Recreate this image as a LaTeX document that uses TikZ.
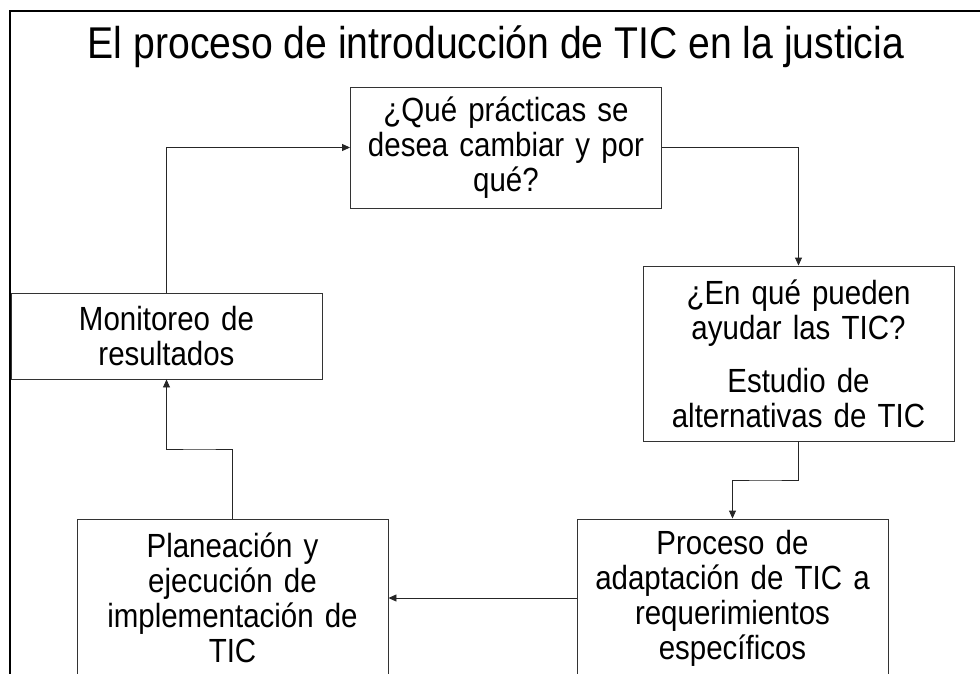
\documentclass[tikz,border=0pt]{standalone}
\usepackage{fontspec}
\setmainfont{Liberation Sans}[FakeStretch=0.88]
\usetikzlibrary{arrows.meta, positioning, calc}

\begin{document}
\begin{tikzpicture}[
    x=1pt, y=-1pt,
    stage/.style={
        rectangle, draw=black!80, line width=0.9pt,
        minimum width=311pt, text width=305pt, align=center,
        inner sep=0pt,
        font=\fontsize{33.5}{35}\selectfont
    },
    arrow/.style={
        -{Triangle[length=8pt, width=7pt]}, line width=0.9pt, draw=black!85
    },
    frameline/.style={line width=2pt, draw=black}
]

\path[use as bounding box, clip] (0,0) rectangle (980,674);

% Slide frame
\draw[frameline] (10,690) -- (10,11) -- (990,11);

% Title
\node[anchor=base, font=\fontsize{44.5}{50}\selectfont] (title) at (496,59) {El proceso de introducción de TIC en la justicia};

% Main stages
\node[stage, minimum height=121pt] (practicas) at (506,147.5) {¿Qué prácticas se\\desea cambiar y por\\qué?};
\node[stage, minimum height=175pt] (ayuda) at (798.5,353.5) {¿En qué pueden\\ayudar las TIC?\\[18pt]Estudio de\\alternativas de TIC};
\node[stage, minimum height=158pt] (adaptacion) at (732.5,598) {Proceso de\\adaptación de TIC a\\requerimientos\\específicos};
\node[stage, minimum height=158pt] (planeacion) at (232.5,598) {Planeación y\\ejecución de\\implementación de\\TIC};
\node[stage, minimum height=86pt] (monitoreo) at (166.5,336) {Monitoreo de\\resultados};

% Arrows
\draw[arrow] (practicas.east) -| (ayuda.north);
\draw[arrow] (ayuda.south) |- ($(ayuda.south)!0.5!(adaptacion.north)$) -| (adaptacion.north);
\draw[arrow] (adaptacion.west) -- (planeacion.east);
\draw[arrow] (planeacion.north) |- ($(planeacion.north)!0.5!(monitoreo.south)$) -| (monitoreo.south);
\draw[arrow] (monitoreo.north) |- (practicas.west);

\end{tikzpicture}
\end{document}
